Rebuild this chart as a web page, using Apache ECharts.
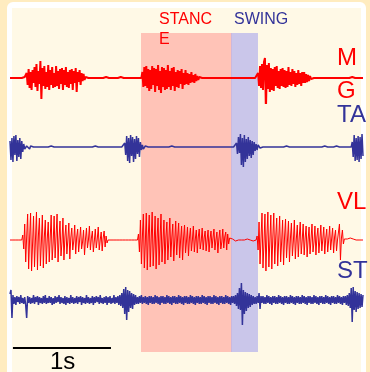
<!DOCTYPE html>
<html><head><meta charset="utf-8">
<script src="https://cdn.jsdelivr.net/npm/echarts@6/dist/echarts.min.js"></script>
<style>html,body{margin:0;padding:0;background:#FFECC0}#c{width:370px;height:372px}</style>
</head><body><div id="c"></div>
<script>
// sampling interval of the traces (seconds)
const sampleStep = 0.01;
const channelNames = ['M\nG', 'TA', 'VL', 'ST'];
// EMG amplitudes (arbitrary units), one value per sample, 20 samples per row
const mgValues = [
 0,0,0,0,0,0,0,0,0,0, 0,0,0,0,0,1,0,5,-7,9,
 -10,6,-12,8,-5,11,-9,14,-13,7, -6,17,-21,10,-8,12,-11,6,-9,13,
 -12,8,-7,11,-10,5,-9,12,-8,7, -11,9,-6,10,-12,8,-7,11,-9,6,
 -10,8,-6,9,-12,7,-5,10,-14,6, -4,8,-7,5,-3,4,-2,1,0,0,
 0,0,0,0,1,0,0,0,0,0, 0,-1,0,0,0,0,0,0,1,0,
 0,0,0,0,0,0,-1,0,0,0, 0,0,0,1,0,0,0,0,0,0,
 0,0,0,0,0,0,1,0,0,0, 0,0,0,0,0,6,-9,11,-8,12,
 -10,9,-13,8,-11,12,-7,10,-14,9, -8,13,-12,7,-15,11,-9,10,-12,8,
 -11,13,-9,7,-12,10,-8,11,-13,6, -9,8,-10,7,-6,9,-11,5,-7,8,
 -6,5,-7,4,-5,6,-4,3,-5,4, -3,2,-2,1,0,0,0,0,0,0,
 0,0,0,1,0,0,0,0,0,0, 0,0,-1,0,0,0,0,0,0,0,
 0,0,0,0,0,1,0,0,0,0, 0,0,0,0,-1,0,0,0,0,0,
 0,0,0,0,0,0,0,0,0,0, 0,0,0,5,-8,12,-10,14,-12,16,
 20,-32,13,-11,15,-14,10,-12,9,-13, 11,-8,12,-10,7,-11,9,-8,10,-9,
 8,-10,7,-9,11,-7,6,-8,9,-6, 7,-9,5,-7,8,-6,5,-8,6,-5,
 6,-5,4,-4,3,-3,2,-1,0,0, 0,0,0,0,1,0,0,0,0,0,
 0,0,0,0,0,0,-1,0,0,0, 0,0,0,0,0,0,1,0,0,0,
 0,0,0,0,0,0,0,0,0,1, 0,0,0,0,0,0,0,-1,0,0,
 0];
const taValues = [
 6,-13,9,-15,11,-8,12,-14,7,-10, 9,-12,6,-5,3,-2,0,1,0,0,
 -2,1,0,0,0,2,-1,0,0,0, 0,0,0,0,0,0,0,0,0,0,
 0,0,1,0,0,0,0,0,0,0, 0,0,0,0,0,0,1,0,0,0,
 0,0,0,0,0,0,0,0,1,0, 0,0,0,0,0,0,0,0,0,1,
 0,0,0,0,0,0,0,1,0,0, 0,0,0,0,0,0,0,0,1,0,
 0,0,0,0,0,0,1,0,0,0, 0,0,1,0,0,0,0,4,-8,11,
 -14,9,-16,12,-9,10,-15,8,-12,11, -7,9,-10,5,-3,2,-2,0,1,0,
 -1,0,0,0,0,0,0,0,0,0, 0,1,0,0,0,0,0,0,0,0,
 0,0,0,0,0,1,0,0,0,0, 0,0,0,0,0,0,0,0,0,0,
 0,1,0,0,0,0,0,0,0,0, 0,0,0,0,1,0,0,0,0,0,
 0,0,0,0,0,0,1,0,0,0, 0,0,0,0,0,0,0,0,1,0,
 0,0,0,0,0,0,0,0,0,0, 0,4,-7,10,-6,13,-18,9,-20,12,
 -15,8,-12,10,-9,7,-11,6,-8,5, -4,3,-3,2,0,-1,1,0,0,0,
 0,0,0,0,0,0,1,0,0,0, 0,0,0,0,0,0,0,0,0,0,
 0,0,1,0,0,0,0,0,0,0, 0,0,0,0,0,1,0,0,0,0,
 0,0,0,0,0,0,0,0,1,0, 0,0,0,0,0,0,0,0,0,0,
 0,1,0,0,0,0,0,0,0,0, 0,0,0,1,0,0,0,0,0,0,
 0,0,0,0,0,0,0,0,0,5, -10,12,-14,9,-13,11,-15,10,-12,13,
 -9];
const vlValues = [
 0,0,0,0,0,1,0,0,0,0, 0,0,0,5,-9,16,-22,3,26,-29,
 2,27,-31,-4,24,-27,1,28,-30,5, 22,-26,-2,25,-28,3,20,-24,1,18,
 -22,2,25,-20,-3,24,-18,4,26,-22, 1,19,-16,-2,22,-20,3,15,-14,0,
 17,-19,2,12,-10,-1,15,-14,3,11, -12,0,13,-9,-2,10,-15,1,12,-8,
 0,14,-10,2,9,-12,-1,11,-8,1, 13,-10,0,8,-11,2,9,-7,4,-3,
 0,1,0,0,0,-1,0,0,0,0, 1,0,0,0,0,0,-1,0,0,0,
 0,0,1,0,0,0,0,0,0,0, 0,6,-12,20,-24,3,26,-28,-2,27,
 -30,4,25,-27,1,28,-26,-3,24,-29, 2,22,-25,1,26,-22,-2,20,-24,3,
 18,-20,0,22,-17,2,16,-21,-1,19, -15,3,17,-18,0,14,-20,2,15,-13,
 -1,13,-16,2,12,-11,0,14,-12,1, 10,-13,3,11,-9,-1,12,-10,2,9,
 -11,0,10,-12,1,9,-8,2,11,-10, 0,8,-13,1,10,-9,-2,11,-8,3,
 8,-10,6,-4,2,0,0,1,0,0, -1,0,0,0,1,0,0,0,0,0,
 0,0,1,0,0,0,0,0,-1,0, 0,0,4,-10,18,-24,2,27,-28,-3,
 26,-31,4,28,-27,-1,25,-29,2,27, -24,3,22,-26,0,24,-22,-2,20,-25,
 3,21,-18,0,19,-22,2,17,-16,-1, 20,-19,1,15,-17,3,18,-14,0,16,
 -15,2,14,-17,0,13,-14,1,16,-12, -2,14,-15,3,12,-13,0,15,-11,1,
 13,-14,2,11,-12,0,14,-10,1,12, -13,3,10,-11,0,-1,16,-20,2,10,
 -4,1,0,0,1,0,0,2,0,0, 1,0,0,0,2,0,0,1,0,0,
 0];
const stValues = [
 6,10,-18,5,-4,3,-5,4,-2,3, -4,5,-3,2,-4,3,-5,-18,4,-3,
 3,-4,2,-3,5,-4,3,-2,4,-5, 3,-3,2,-4,4,-3,5,-4,2,-3,
 4,-3,3,-5,2,-4,4,-3,3,-2, 5,-4,3,-3,2,-4,4,-5,3,-3,
 2,-4,5,-3,3,-4,2,-3,4,-4, 3,-2,4,-5,3,-3,2,-4,5,-3,
 3,-4,2,-3,4,-5,3,-3,4,-2, 3,-4,5,-3,2,-4,3,-3,4,-5,
 3,-3,4,-4,2,-3,5,-4,3,-3, 4,-5,5,-6,7,-8,11,-14,13,-20,
 10,-12,9,-8,7,-9,6,-5,5,-4, 3,-4,4,-3,5,-4,3,-3,4,-4,
 3,-5,4,-3,4,-4,3,-4,5,-3, 4,-4,3,-5,4,-3,4,-4,3,-4,
 5,-3,4,-4,3,-5,4,-3,4,-4, 3,-4,5,-3,4,-4,3,-5,4,-3,
 4,-4,3,-4,5,-3,4,-4,3,-5, 4,-3,4,-4,3,-4,5,-3,4,-4,
 3,-5,4,-3,4,-4,3,-4,5,-3, 4,-4,3,-5,4,-3,4,-4,3,-4,
 5,-3,4,-4,3,-5,4,-3,4,-4, 5,-6,7,-9,12,-10,17,-25,10,-14,
 8,-11,7,-8,6,-7,5,-5,4,-4, 3,-4,4,-3,7,-9,4,-3,4,-4,
 3,-4,5,-3,4,-4,3,-5,4,-3, 4,-4,3,-4,5,-3,4,-4,3,-5,
 4,-3,4,-4,3,-4,5,-3,4,-4, 3,-5,4,-3,4,-4,3,-4,5,-3,
 4,-4,3,-5,4,-3,4,-4,3,-4, 5,-3,4,-4,3,-5,4,-3,4,-4,
 3,-4,5,-3,4,-4,3,-5,4,-3, 4,-4,3,-4,5,-3,4,-4,3,-5,
 4,-3,4,-5,5,-6,7,-8,12,-22, 13,-10,9,-12,8,-9,7,-8,6,-7,
 5];
// gait phases (seconds)
const phaseNames = ['STANC\nE', 'SWING'];
const phaseStart = [1.336, 2.254];
const phaseEnd = [2.258, 2.529];
// scale bar (seconds)
const scaleBar = [0.03, 1.03];
const scaleLabel = '1s';

const RED = '#FF0000', BLUE = '#333399';
const tMax = (mgValues.length - 1) * sampleStep;
const toSeries = arr => arr.map((v, i) => [+(i * sampleStep).toFixed(3), v]);

const gridBoxes = [
  {top: 53, height: 50, amp: 25},
  {top: 122, height: 50, amp: 25},
  {top: 205, height: 70, amp: 35},
  {top: 275, height: 50, amp: 25},
  {top: 33, height: 319, amp: 1},
  {top: 340, height: 16, amp: 1}
];
const grids = gridBoxes.map(g => ({left: 10, right: 7, top: g.top, height: g.height, containLabel: false}));
const xAxes = gridBoxes.map((g, i) => ({type: 'value', gridIndex: i, min: 0, max: tMax, show: false}));
const yAxes = gridBoxes.map((g, i) => ({type: 'value', gridIndex: i, min: -g.amp, max: g.amp, show: false}));

const traces = [mgValues, taValues, vlValues, stValues];
const traceColors = [RED, BLUE, RED, BLUE];
const traceWidths = [2, 1.5, 1, 1.5];
const series = traces.map((arr, i) => ({
  type: 'line', xAxisIndex: i, yAxisIndex: i, data: toSeries(arr),
  symbol: 'none', silent: true, z: 2, sampling: null,
  lineStyle: {color: traceColors[i], width: traceWidths[i]}
}));
series.push({
  type: 'line', xAxisIndex: 4, yAxisIndex: 4, data: [], z: 10, silent: true,
  markArea: {silent: true, data: [
    [{xAxis: phaseStart[0], itemStyle: {color: 'rgba(255,100,100,0.36)'}}, {xAxis: phaseEnd[0]}],
    [{xAxis: phaseStart[1], itemStyle: {color: 'rgba(100,100,242,0.34)'}}, {xAxis: phaseEnd[1]}]
  ]}
});
series.push({
  type: 'line', xAxisIndex: 5, yAxisIndex: 5, symbol: 'none', silent: true, z: 3,
  data: [[scaleBar[0], 0], [scaleBar[1], 0]],
  lineStyle: {color: '#000', width: 2}
});

const FONT = 'Liberation Sans, Arial, sans-serif';
const chart = echarts.init(document.getElementById('c'));
chart.setOption({
  animation: false,
  backgroundColor: '#FFECC0',
  grid: grids, xAxis: xAxes, yAxis: yAxes, series: series,
  graphic: [
    {type: 'rect', z: -10, shape: {x: 7, y: 2, width: 359, height: 390, r: 6}, style: {fill: '#FFFFFF'}},
    {type: 'rect', z: -9, shape: {x: 12, y: 8, width: 349, height: 380}, style: {fill: '#FFF9E6'}},
    {type: 'text', z: 20, left: 159, top: 10, style: {text: phaseNames[0], fill: RED, font: '16px ' + FONT, lineHeight: 20}},
    {type: 'text', z: 20, left: 234, top: 10, style: {text: phaseNames[1], fill: BLUE, font: '16px ' + FONT, lineHeight: 20}},
    {type: 'text', z: 20, left: 337, top: 42, style: {text: channelNames[0], fill: RED, font: '24px ' + FONT, lineHeight: 33}},
    {type: 'text', z: 20, left: 337, top: 102, style: {text: channelNames[1], fill: BLUE, font: '24px ' + FONT, lineHeight: 26}},
    {type: 'text', z: 20, left: 337, top: 189, style: {text: channelNames[2], fill: RED, font: '24px ' + FONT, lineHeight: 26}},
    {type: 'text', z: 20, left: 337, top: 258, style: {text: channelNames[3], fill: BLUE, font: '24px ' + FONT, lineHeight: 26}},
    {type: 'text', z: 20, left: 50, top: 349, style: {text: scaleLabel, fill: '#000', font: '24px ' + FONT, lineHeight: 26}}
  ]
});
</script></body></html>
